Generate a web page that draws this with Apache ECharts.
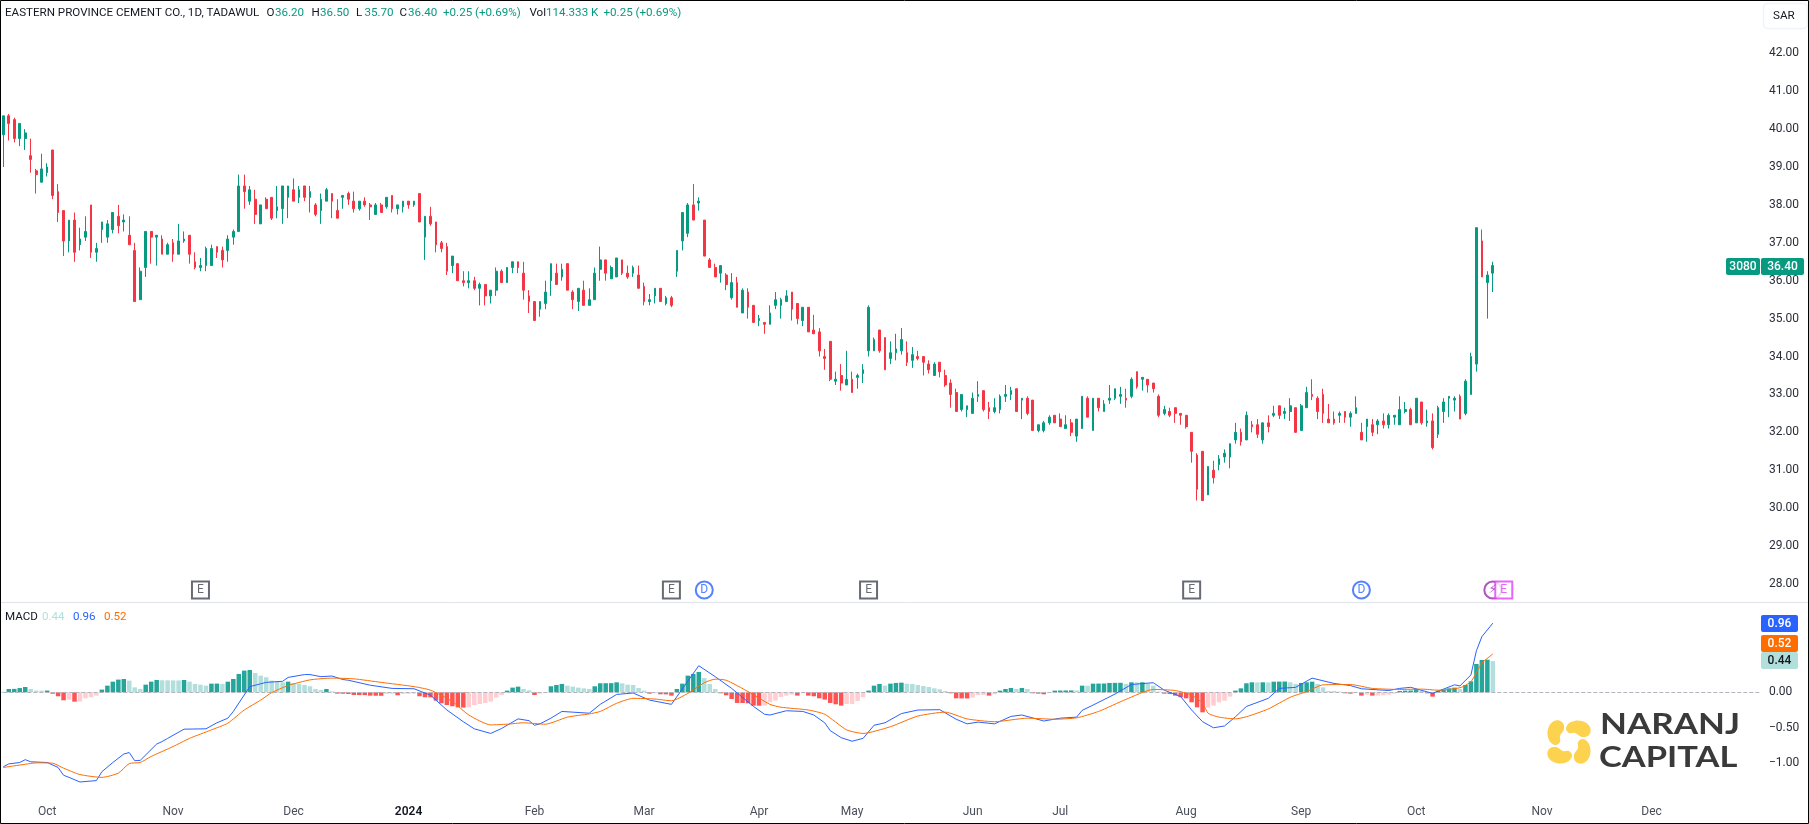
<!DOCTYPE html>
<html><head><meta charset="utf-8"><style>html,body{margin:0;padding:0;background:#fff}#c{width:1809px;height:824px}</style>
<script src="https://cdn.jsdelivr.net/npm/echarts@6/dist/echarts.min.js"></script></head><body><div id="c"></div>
<script>
const opens=[39.85,40.35,40.25,39.75,39.75,39.3,38.9,38.6,38.85,39.45,
38.35,37.85,37.05,37.6,36.95,37.15,38.0,36.75,37.35,37.15,
37.35,37.7,37.55,37.2,36.8,35.5,36.35,37.3,37.15,37.1,
36.7,37.0,36.7,37.05,37.2,36.5,36.35,36.4,36.4,36.9,
36.8,36.8,37.15,37.3,38.5,38.1,38.15,37.5,38.15,38.2,
37.85,37.9,38.2,38.4,38.2,38.5,38.2,38.0,37.85,38.1,
38.3,37.85,38.2,38.3,38.1,37.9,38.1,38.0,37.75,38.0,
37.95,38.25,37.9,37.95,38.1,38.0,38.3,37.15,37.7,37.55,
37.0,36.9,36.4,36.45,36.0,35.95,36.0,35.8,35.9,35.6,
35.75,36.25,35.95,36.35,36.5,36.2,35.6,35.45,35.25,35.4,
36.0,36.2,36.1,36.45,35.7,35.45,35.75,35.35,35.5,36.3,
36.55,36.05,36.1,36.55,36.2,36.2,36.15,35.85,35.45,35.6,
35.8,35.4,35.55,36.25,37.05,37.25,38.0,38.05,37.6,36.55,
36.35,36.2,36.15,35.55,35.95,35.15,35.7,35.35,34.95,34.9,
34.85,35.35,35.35,35.45,35.7,35.4,34.95,35.3,34.7,34.65,
34.0,34.4,33.35,33.5,33.25,33.4,33.45,33.55,34.15,34.15,
34.7,34.5,33.95,34.1,34.15,34.1,33.9,34.0,34.0,33.8,
33.5,33.85,33.5,33.3,33.05,32.6,32.6,32.5,32.95,33.1,
32.65,32.55,32.6,32.95,33.0,33.15,32.85,32.9,32.85,32.05,
32.05,32.25,32.45,32.35,32.1,32.25,31.9,32.1,32.9,32.05,
32.9,32.55,32.85,32.9,32.95,32.9,32.95,33.6,33.4,33.4,
33.3,32.95,32.5,32.55,32.65,32.5,32.45,32.0,31.4,31.5,
30.35,31.0,31.15,31.35,31.35,31.8,32.0,31.8,32.2,32.2,
31.8,32.25,32.45,32.7,32.5,32.55,32.65,32.05,32.65,33.0,
32.9,33.0,32.35,32.35,32.45,32.55,32.4,32.5,32.0,32.15,
32.2,32.2,32.3,32.2,32.4,32.2,32.55,32.6,32.25,32.8,
32.25,32.3,31.95,32.55,32.9,32.85,32.95,32.5,33.0,33.8,37.05,35.95,36.2];
const closes=[40.35,40.15,39.75,40.15,39.9,39.2,38.8,38.95,39.0,38.25,
37.8,37.05,37.6,36.75,37.1,37.3,36.75,36.85,37.55,37.5,
37.8,37.45,37.6,36.95,35.45,36.25,37.3,37.15,37.2,36.7,
36.95,36.7,37.05,37.1,36.7,36.35,36.4,36.85,36.85,36.75,
36.55,37.1,37.3,38.5,38.35,38.4,37.75,38.0,37.9,37.65,
37.95,38.5,38.5,38.1,38.4,38.2,38.35,37.75,38.15,38.4,
38.1,37.65,38.25,38.15,37.9,38.1,38.0,37.95,38.0,37.8,
38.2,37.9,38.0,38.1,38.0,38.1,37.55,37.7,37.5,36.95,
36.85,36.25,36.65,36.0,35.95,36.0,35.8,35.9,35.6,35.75,
36.25,35.95,36.35,36.5,36.35,35.75,35.45,34.95,35.45,35.7,
36.45,35.9,36.3,35.75,35.5,35.8,35.35,35.5,36.2,36.55,
36.2,36.35,36.6,36.2,36.1,36.35,35.8,35.45,35.5,35.8,
35.45,35.55,35.35,36.8,37.8,38.0,37.6,38.1,36.65,36.35,
36.1,36.4,35.9,35.95,35.3,35.75,35.3,34.9,35.0,34.85,
35.15,35.5,35.5,35.6,35.25,35.0,35.3,34.65,34.6,34.15,
33.95,33.4,33.4,33.3,33.4,33.05,33.5,33.65,35.3,34.45,
34.15,33.65,34.1,34.2,34.45,33.85,34.05,33.95,33.85,33.65,
33.8,33.6,33.25,33.0,32.55,33.0,32.7,32.9,33.0,32.6,
32.55,32.65,32.95,33.0,33.1,32.55,32.9,32.5,32.05,32.2,
32.25,32.4,32.25,32.15,32.2,32.0,32.35,32.95,32.4,32.9,
32.65,32.75,32.9,33.15,33.0,32.85,33.4,33.2,33.45,33.25,
33.15,32.45,32.6,32.45,32.5,32.45,32.15,31.5,30.5,30.2,
31.1,30.8,31.3,31.45,31.7,32.0,31.75,32.45,32.15,31.95,
32.25,32.15,32.5,32.45,32.55,32.7,32.0,32.7,33.05,32.95,
32.55,32.5,32.25,32.25,32.5,32.4,32.5,32.65,31.8,32.35,
32.0,32.3,32.2,32.45,32.45,32.6,32.6,32.2,32.9,32.25,
32.3,31.6,32.65,32.8,32.95,32.9,32.35,33.35,34.0,37.4,36.1,36.15,36.4];
const highs=[40.35,40.4,40.3,40.15,40.0,39.75,38.95,39.35,39.1,39.45,
38.55,37.85,37.6,37.8,37.4,37.7,38.0,37.0,37.55,37.6,
37.8,38.0,37.75,37.7,37.0,36.35,37.3,37.3,37.2,37.2,
37.0,37.1,37.5,37.3,37.2,36.75,36.6,36.9,36.95,36.9,
36.9,37.2,37.35,38.8,38.8,38.5,38.4,38.0,38.2,38.2,
38.5,38.5,38.5,38.7,38.5,38.5,38.5,38.05,38.3,38.45,
38.3,38.15,38.25,38.35,38.35,38.1,38.2,38.05,38.05,38.05,
38.2,38.25,38.0,38.1,38.1,38.1,38.3,37.7,37.95,37.55,
37.05,37.0,36.65,36.45,36.25,36.25,36.1,35.95,35.9,35.75,
36.35,36.3,36.35,36.5,36.5,36.5,35.75,35.45,35.45,36.0,
36.45,36.45,36.45,36.45,35.75,35.8,36.0,35.8,36.35,36.9,
36.55,36.4,36.6,36.55,36.4,36.4,36.4,35.95,35.65,35.8,
35.8,35.6,35.6,36.8,37.8,38.05,38.55,38.2,37.6,36.6,
36.45,36.4,36.2,36.2,36.1,35.8,35.8,35.35,35.1,34.9,
35.35,35.7,35.55,35.75,35.7,35.4,35.3,35.3,35.1,34.75,
34.2,34.4,33.6,33.8,34.15,33.6,33.55,33.8,35.35,34.5,
34.7,34.5,34.4,34.6,34.75,34.4,34.25,34.15,34.0,33.9,
33.85,33.85,33.65,33.4,33.15,33.0,32.7,33.05,33.35,33.1,
32.8,32.9,33.0,33.25,33.2,33.15,32.9,32.95,32.85,32.2,
32.3,32.45,32.45,32.5,32.45,32.35,32.35,32.95,32.95,32.9,
32.9,32.85,33.25,33.15,33.2,33.15,33.45,33.6,33.45,33.4,
33.3,33.0,32.7,32.65,32.65,32.5,32.45,32.0,31.45,31.5,
31.1,31.25,31.4,31.55,31.7,32.25,32.1,32.55,32.3,32.35,
32.25,32.45,32.7,32.7,32.65,32.9,32.65,32.75,33.2,33.4,
32.95,33.15,32.75,32.55,32.55,32.55,32.55,32.95,32.25,32.35,
32.35,32.35,32.5,32.5,32.45,32.95,32.8,32.65,32.9,32.8,
32.6,32.5,32.7,32.9,32.95,32.95,33.0,33.4,34.1,37.4,37.35,36.25,36.5];
const lows=[39.0,39.7,39.65,39.55,39.45,38.85,38.3,38.6,38.75,38.15,
37.55,36.65,36.75,36.5,36.8,37.05,36.6,36.5,37.0,37.0,
37.25,37.25,37.3,36.95,35.45,35.5,36.1,36.45,36.4,36.7,
36.7,36.5,36.7,37.0,36.45,36.3,36.25,36.25,36.4,36.6,
36.35,36.5,36.95,37.3,37.9,38.0,37.5,37.5,37.9,37.6,
37.65,37.5,37.65,38.1,38.05,38.1,37.8,37.7,37.5,38.1,
37.65,37.65,37.9,38.0,37.8,37.85,37.95,37.6,37.75,37.8,
37.9,37.8,37.75,37.8,37.9,37.95,37.55,36.55,37.45,36.75,
36.75,36.15,36.2,36.0,35.85,35.8,35.75,35.35,35.35,35.4,
35.6,35.95,35.95,36.2,36.2,35.5,35.15,34.95,35.05,35.25,
35.6,35.9,36.0,35.75,35.25,35.2,35.35,35.35,35.5,36.0,
36.0,36.05,36.1,36.15,36.05,36.1,35.8,35.35,35.35,35.4,
35.45,35.35,35.3,36.1,36.8,37.15,37.6,37.85,36.65,36.35,
36.1,35.95,35.75,35.5,35.3,35.15,35.0,34.9,34.8,34.6,
34.85,35.25,35.0,35.45,34.95,34.85,34.8,34.65,34.6,34.0,
33.65,33.35,33.25,33.1,33.25,33.05,33.15,33.3,34.0,34.15,
34.1,33.65,33.8,33.9,34.05,33.75,33.7,33.9,33.5,33.55,
33.5,33.45,33.2,32.65,32.55,32.55,32.4,32.5,32.8,32.55,
32.35,32.5,32.5,32.8,32.85,32.55,32.35,32.45,32.05,32.0,
32.0,32.2,32.25,32.15,32.1,31.9,31.75,32.1,32.4,32.05,
32.55,32.55,32.75,32.85,32.75,32.65,32.9,33.15,33.1,33.05,
33.05,32.4,32.45,32.4,32.25,32.2,32.1,31.2,30.2,30.2,
30.35,30.65,31.0,31.2,31.05,31.7,31.65,31.8,32.0,31.85,
31.7,32.0,32.4,32.35,32.35,32.3,32.0,32.05,32.65,32.85,
32.35,32.25,32.25,32.2,32.25,32.25,32.15,32.5,31.8,31.75,
31.9,31.95,32.1,32.1,32.2,32.2,32.5,32.2,32.25,32.2,
32.15,31.55,31.85,32.25,32.4,32.55,32.35,32.45,33.0,33.6,36.1,35.0,35.7];

const histValues=[.005,.047,.048,.06,.075,.047,.024,.023,.025,-.02,
-.056,-.113,-.103,-.132,-.13,-.085,-.07,-.047,.038,.094,
.15,.179,.188,.165,.07,.047,.108,.15,.174,.17,
.169,.168,.167,.174,.15,.118,.108,.094,.122,.123,
.12,.15,.188,.259,.306,.315,.273,.235,.212,.165,
.15,.141,.15,.132,.118,.103,.085,.047,.033,.047,
.014,-.019,-.02,-.024,-.038,-.039,-.04,-.047,-.048,-.049,
-.024,-.022,-.042,-.024,-.023,-.019,-.056,-.07,-.071,-.118,
-.155,-.179,-.197,-.212,-.216,-.212,-.179,-.165,-.15,-.132,
-.075,-.038,.024,.066,.08,.047,.028,-.038,-.019,-.009,
.085,.103,.118,.094,.08,.066,.056,.047,.085,.127,
.128,.129,.141,.127,.108,.103,.061,.024,-.019,-.014,
-.028,-.029,-.047,.047,.122,.235,.259,.287,.202,.118,
.047,-.014,-.042,-.094,-.15,-.151,-.155,-.188,-.189,-.188,
-.141,-.118,-.066,-.047,-.033,-.047,-.014,-.047,-.056,-.085,
-.103,-.15,-.169,-.188,-.165,-.164,-.122,-.07,.024,.094,
.118,.094,.122,.132,.136,.122,.118,.103,.089,.075,
.056,.042,.019,-.014,-.085,-.086,-.087,-.075,-.038,-.037,
-.047,-.028,.024,.047,.061,.047,.061,.047,-.014,-.019,
-.028,-.009,.024,.025,.026,.027,.026,.094,.093,.122,
.123,.124,.132,.133,.134,.118,.141,.14,.141,.118,
.094,.01,-.019,-.024,-.047,-.07,-.085,-.141,-.212,-.282,
-.216,-.188,-.141,-.118,-.061,.024,.056,.127,.141,.14,
.141,.14,.15,.151,.152,.141,.118,.132,.141,.15,
.118,.07,.019,.018,.009,-.014,-.019,-.009,-.047,-.033,
-.047,-.046,-.042,-.033,-.019,.019,.024,.025,.047,.019,
-.014,-.061,.024,.038,.056,.066,.047,.103,.155,.4,.456,.46,.44];

const macdIdx=[0,1,3,4,5,8,10,11,12,14,17,18,20,22,23,24,25,28,29,30,33,37,39,41,42,45,48,51,52,55,56,58,60,62,63,67,71,75,78,81,84,86,89,91,94,96,97,98,100,102,104,107,109,112,115,118,122,127,130,133,137,139,140,143,146,148,150,151,153,155,157,159,161,164,167,171,174,176,178,181,184,186,190,193,196,197,199,203,206,210,212,215,217,219,221,223,225,227,231,233,236,239,243,246,248,253,255,257,261,265,266,268,269,270,272];
const macdVals=[-1.05,-1.01,-.99,-.95,-.98,-.99,-1.06,-1.17,-1.2,-1.265,-1.245,-1.12,-.99,-.87,-.85,-.965,-.96,-.73,-.695,-.65,-.52,-.515,-.43,-.365,-.27,.08,.14,.155,.21,.25,.25,.22,.23,.18,.17,.10,.055,.05,-.04,-.25,-.415,-.515,-.58,-.51,-.375,-.40,-.465,-.445,-.365,-.27,-.28,-.295,-.17,-.03,-.01,-.11,-.17,.375,.22,.055,-.20,-.31,-.32,-.26,-.27,-.32,-.43,-.54,-.64,-.69,-.65,-.465,-.43,-.30,-.25,-.245,-.38,-.445,-.42,-.445,-.34,-.32,-.405,-.365,-.35,-.255,-.18,-.025,.11,.135,.03,-.06,-.25,-.415,-.50,-.475,-.345,-.20,-.085,.055,.07,.20,.125,.095,.05,.025,.055,.07,-.015,.105,.09,.245,.585,.785,.975];
const signalIdx=[0,4,6,9,11,14,18,21,23,25,27,31,34,38,41,44,47,49,52,56,60,64,69,75,78,82,85,89,92,95,99,103,107,109,112,115,119,122,125,128,130,132,136,140,142,147,150,154,157,162,167,172,176,181,187,192,196,200,205,210,214,217,219,220,222,225,227,231,235,238,241,246,250,255,259,262,266,268,270,272];
const signalVals=[-1.06,-1.015,-.995,-1.0,-1.07,-1.16,-1.2,-1.14,-1.005,-.99,-.905,-.765,-.65,-.53,-.435,-.25,-.11,-.005,.095,.175,.20,.19,.14,.08,.03,-.13,-.32,-.46,-.45,-.43,-.45,-.35,-.305,-.27,-.155,-.085,-.095,-.12,-.015,.135,.185,.17,.01,-.17,-.21,-.25,-.31,-.53,-.58,-.485,-.335,-.28,-.375,-.415,-.365,-.38,-.36,-.27,-.10,.04,.025,-.04,-.155,-.295,-.35,-.375,-.345,-.235,-.07,.01,.105,.11,.055,.04,.045,.03,.065,.15,.41,.54];

const monthLabels=['Oct','Nov','Dec','2024','Feb','Mar','Apr','May','Jun','Jul','Aug','Sep','Oct','Nov','Dec'];
const monthIdx=[8,31,53,74,97,117,138,155,177,193,216,237,258,281,301];
const priceTicks=[28,29,30,31,32,33,34,35,36,37,38,39,40,41,42];
const macdTicks=[-1,-0.5,0];
const eventIdx=[36,122,128,158,217,248,272,274];
const eventLetter=['E','E','D','E','E','D','⚡','E'];
const eventKind=['earn','earn','div','earn','earn','div','split','next'];
const headName='EASTERN PROVINCE CEMENT CO., 1D, TADAWUL';
const headOHLC=[['O','36.20',266.5],['H','36.50',311.6],['L','35.70',356],['C','36.40',399.6]];
const slots=322;

const UP='#089981',DN='#f23645',FONT='Roboto, sans-serif';
const cats=Array.from({length:slots},(_,i)=>{const k=monthIdx.indexOf(i);return k<0?'':monthLabels[k];});
const candles=opens.map((o,i)=>[o,closes[i],lows[i],highs[i]]);
const pairs=(a,b)=>a.map((x,i)=>[x,b[i]]);
const kinds={earn:{symbol:'rect',c:'#434651',f:FONT},div:{symbol:'circle',c:'#2962ff',f:FONT},split:{symbol:'circle',c:'#9c27b0',f:'DejaVu Sans'},next:{symbol:'rect',c:'#e040fb',f:FONT}};
const eventData=eventIdx.map((x,i)=>{const k=kinds[eventKind[i]];return {value:[x,27.84],name:eventLetter[i],symbol:k.symbol,
  itemStyle:{color:'#fff',borderColor:k.c,borderWidth:2},label:{color:k.c,fontFamily:k.f}};});
const hf='11.6px '+FONT;
const txt=(text,x,y,fill,extra)=>Object.assign({type:'text',silent:true,z:50,style:{text,x,y,fill,font:hf,textVerticalAlign:'middle',textAlign:'left'}},extra||{});
const tag=(x,y,w,h,bg,text,fg)=>[{type:'rect',silent:true,z:49,shape:{x,y,width:w,height:h,r:2},style:{fill:bg}},
  {type:'text',silent:true,z:50,style:{text,x:x+w/2,y:y+h/2+.5,fill:fg,font:'500 12px '+FONT,textAlign:'center',textVerticalAlign:'middle'}}];
const petalBase=[[17,6],[22,0],[33,-1],[41,5],[40,13],[33,15],[26,11],[20,11]];
const petal=(rot)=>petalBase.map(([x,y])=>{let px=x,py=y;for(let r=0;r<rot;r++){const nx=40-py,ny=px;px=nx;py=ny;}return [1549+px,722+py];});
const g=[
 txt(headName,5,13,'#131722'),
 ...headOHLC.flatMap(([a,b,x])=>[txt(a,x,13,'#131722'),txt(b,x+8.5,13,UP)]),
 txt('+0.25 (+0.69%)',443,13,UP),
 txt('Vol',529.5,13,'#131722'),txt('114.333 K',546,13,UP),txt('+0.25 (+0.69%)',603.5,13,UP),
 txt('MACD',5,617,'#131722'),txt('0.44',42,617,'#b2dfdb'),txt('0.96',73,617,'#2962ff'),txt('0.52',104,617,'#ff6d00'),
 {type:'line',silent:true,z:40,shape:{x1:0,y1:602.5,x2:1809,y2:602.5},style:{stroke:'#e0e3eb',lineWidth:1}},
 {type:'rect',silent:true,z:49,shape:{x:1763.5,y:3.5,width:44,height:25,r:4},style:{fill:'#fff',stroke:'#f0f3fa',lineWidth:1.5}},
 txt('SAR',1773,16,'#131722'),
 ...tag(1726,258,34,17,UP,'3080','#fff'),...tag(1761,258,43,17,UP,'36.40','#fff'),
 ...tag(1761,615,37,17,'#2962ff','0.96','#fff'),...tag(1761,635,37,17,'#ff6d00','0.52','#fff'),...tag(1761,652,37,17,'#b2dfdb','0.44','#131722'),
 ...[0,1,2,3].map(r=>({type:'polygon',silent:true,z:45,shape:{points:petal(r),smooth:.4},style:{fill:'#fdd24f'}})),
 {type:'text',silent:true,z:45,x:1600,y:725,scaleX:1.25,style:{text:'NARANJ',x:0,y:0,fill:'#3a3a3a',font:'700 28px Lato, sans-serif',textVerticalAlign:'middle'}},
 {type:'text',silent:true,z:45,x:1599,y:758,scaleX:1.23,style:{text:'CAPITAL',x:0,y:0,fill:'#3a3a3a',font:'700 28px Lato, sans-serif',textVerticalAlign:'middle'}},
 {type:'rect',silent:true,z:60,shape:{x:.5,y:.5,width:1808,height:823},style:{fill:'none',stroke:'#000',lineWidth:1}}
];
const chart=echarts.init(document.getElementById('c'),null,{renderer:'canvas',width:1809,height:824});
chart.setOption({
 animation:false,backgroundColor:'#fff',
 grid:[{left:0.59,top:1,width:1763.3,height:600},{left:0.59,top:603,width:1763.3,height:195}],
 xAxis:[
  {type:'category',gridIndex:0,data:cats,boundaryGap:true,show:false},
  {type:'category',gridIndex:1,data:cats,boundaryGap:true,axisLine:{show:false},axisTick:{show:false},splitLine:{show:false},
   axisLabel:{interval:0,hideOverlap:false,margin:8,fontFamily:FONT,fontSize:12,color:'#4a4e59',
    formatter:v=>v==='2024'?'{b|2024}':v,rich:{b:{fontWeight:600,color:'#131722',fontFamily:FONT,fontSize:12}}}}
 ],
 yAxis:[
  {type:'value',gridIndex:0,position:'right',min:27.55,max:43.38,scale:true,axisLine:{show:false},axisTick:{show:false},splitLine:{show:false},
   axisLabel:{customValues:priceTicks,margin:5,fontFamily:FONT,fontSize:12,color:'#2a2e39',formatter:v=>v.toFixed(2)}},
  {type:'value',gridIndex:1,position:'right',min:-1.4908,max:1.2595,axisLine:{show:false},axisTick:{show:false},splitLine:{show:false},
   axisLabel:{customValues:macdTicks,margin:5,fontFamily:FONT,fontSize:12,color:'#2a2e39',formatter:v=>v.toFixed(2).replace('-','\u2212')}}
 ],
 series:[
  {type:'candlestick',xAxisIndex:0,yAxisIndex:0,data:candles,barWidth:2.2,
   itemStyle:{color:UP,color0:DN,borderColor:UP,borderColor0:DN,borderWidth:1}},
  {type:'scatter',xAxisIndex:0,yAxisIndex:0,data:eventData,symbolSize:17,z:5,silent:true,
   label:{show:true,position:'inside',formatter:'{b}',fontSize:12}},
  {type:'bar',xAxisIndex:1,yAxisIndex:1,data:histValues,barWidth:4.5,silent:true,
   itemStyle:{color:p=>{const v=p.value,prev=p.dataIndex?histValues[p.dataIndex-1]:0;
     return v>=0?(v>prev?'#26a69a':'#b2dfdb'):(v<prev?'#ff5252':'#ffcdd2');}},
   markLine:{silent:true,symbol:'none',label:{show:false},lineStyle:{type:'dashed',color:'#b2b5be',width:1},data:[[{coord:[0,0]},{coord:[321,0]}]]}},
  {type:'line',xAxisIndex:1,yAxisIndex:1,data:pairs(macdIdx,macdVals),showSymbol:false,symbol:'none',lineStyle:{color:'#2962ff',width:1},z:6},
  {type:'line',xAxisIndex:1,yAxisIndex:1,data:pairs(signalIdx,signalVals),showSymbol:false,symbol:'none',smooth:.2,lineStyle:{color:'#ff6d00',width:1},z:7}
 ],
 graphic:g
});
</script></body></html>
